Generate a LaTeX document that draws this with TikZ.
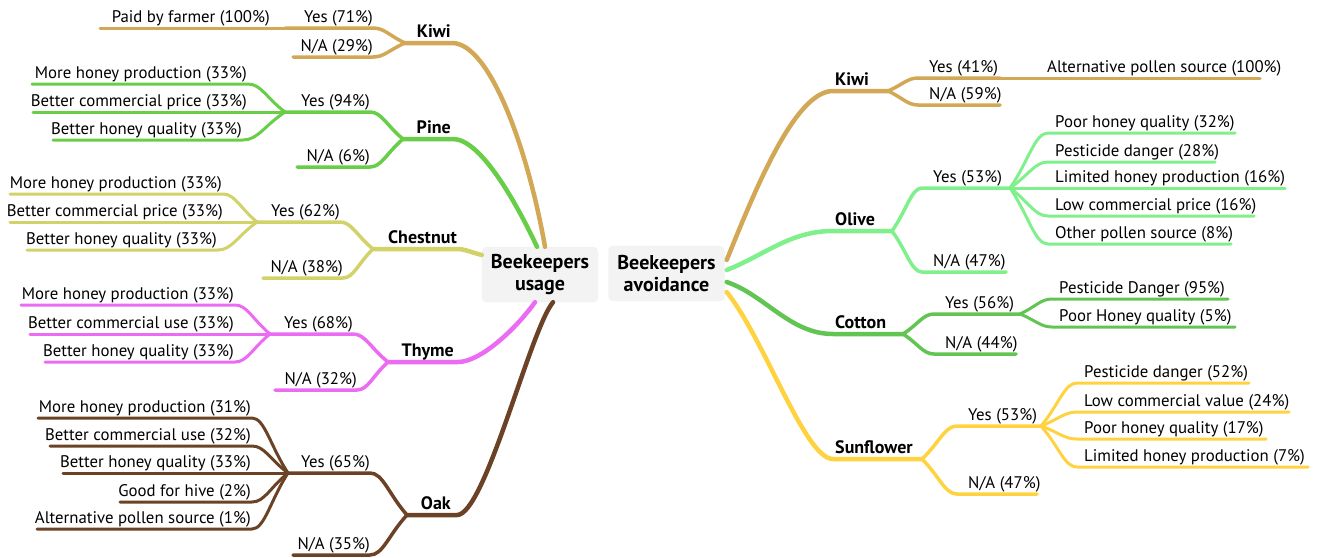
\documentclass[tikz,border=0pt]{standalone}
\usepackage{fontspec}
\setmainfont{PT Sans}
\usetikzlibrary{calc}
\definecolor{ckiwi}{RGB}{210,168,87}
\definecolor{cpine}{RGB}{104,206,72}
\definecolor{cchest}{RGB}{210,210,106}
\definecolor{cthyme}{RGB}{235,107,242}
\definecolor{coak}{RGB}{107,66,38}
\definecolor{colive}{RGB}{128,240,140}
\definecolor{ccotton}{RGB}{98,196,82}
\definecolor{csun}{RGB}{255,210,63}
\definecolor{cboxfill}{RGB}{243,243,243}
\tikzset{
  lf/.style={inner sep=0pt, font=\fontsize{16.8}{20}\selectfont},
  tp/.style={inner sep=0pt, font=\fontsize{18}{21}\selectfont\bfseries},
  cbox/.style={fill=cboxfill, draw=black!6, rounded corners=5pt, align=center,
    minimum width=116pt, minimum height=55pt, inner sep=0pt,
    font=\fontsize{20}{22}\selectfont\bfseries},
  mainln/.style={line width=4.5pt, line cap=round},
  subln/.style={line width=3.5pt, line cap=round},
  leafln/.style={line width=3pt, line cap=round},
  br/.style={to path={.. controls ($(\tikztostart)!0.5!(\tikztotarget)$) and ($(\tikztotarget)!0.35!(\tikztostart|-\tikztotarget)$) .. (\tikztotarget)}}
}
% #1 name, #2 colour, #3 fork, #4 y, #5 x start, #6 x end, #7 text
\newcommand\Lsub[7]{%
  \coordinate (#1s) at (#5,#4);
  \coordinate (#1e) at (#6,#4);
  \draw[subln,#2] (#3) to[br] (#1s) -- (#1e);
  \node[lf,anchor=base east] (#1) at ($(#1s)+(0,-6)$) {#7};
}
\newcommand\Lleaf[7]{%
  \coordinate (#1s) at (#5,#4);
  \coordinate (#1e) at (#6,#4);
  \draw[leafln,#2] (#3) to[br] (#1s) -- (#1e);
  \node[lf,anchor=base east] (#1) at ($(#1s)+(-1,-6)$) {#7};
}
\newcommand\Rsub[7]{%
  \coordinate (#1s) at (#5,#4);
  \coordinate (#1e) at (#6,#4);
  \draw[subln,#2] (#3) to[br] (#1s) -- (#1e);
  \node[lf,anchor=base west] (#1) at ($(#1s)+(11,-6)$) {#7};
}
\newcommand\Rleaf[7]{%
  \coordinate (#1s) at (#5,#4);
  \coordinate (#1e) at (#6,#4);
  \draw[leafln,#2] (#3) to[br] (#1s) -- (#1e);
  \node[lf,anchor=base west] (#1) at ($(#1s)+(7,-6)$) {#7};
}
\begin{document}
\begin{tikzpicture}[x=1pt,y=-1pt]
\useasboundingbox (0,0) rectangle (1317,557);

% central boxes
\node[cbox] (U) at (540,274.5) {Beekeepers\\usage};
\node[cbox] (A) at (666.5,273.5) {Beekeepers\\avoidance};

\coordinate (uK) at ($(U.north)+(5,0)$);
\coordinate (uP) at ($(U.north)+(-3,0)$);
\coordinate (uC) at ($(U.west)+(0,-19.5)$);
\coordinate (uT) at ($(U.south)+(-5,0)$);
\coordinate (uO) at ($(U.south)+(13,0)$);
\coordinate (aK) at ($(A.east)+(2,-13.5)$);
\coordinate (aO) at ($(A.east)+(2,-3.5)$);
\coordinate (aC) at ($(A.east)+(2,8.5)$);
\coordinate (aS) at ($(A.east)+(2,18.5)$);

% ---------- LEFT: usage ----------
% Kiwi
\coordinate (kwE) at (452,43); \coordinate (kwF) at (405,43);
\draw[mainln,ckiwi] (uK) .. controls (528,150) and (490,43) .. (kwE) -- (kwF);
\node[tp,anchor=base east] (kw) at (451,37) {Kiwi};
\Lsub{kwy}{ckiwi}{kwF}{28}{373}{285}{Yes (71\%)}
\Lleaf{kwyp}{ckiwi}{kwye}{28}{271}{100}{Paid by farmer (100\%)}
\Lsub{kwn}{ckiwi}{kwF}{57}{373}{293}{N/A (29\%)}

% Pine
\coordinate (piE) at (453,139); \coordinate (piF) at (403,139);
\draw[mainln,cpine] (uP) .. controls (515,200) and (480,139) .. (piE) -- (piF);
\node[tp,anchor=base east] (pi) at (451,133) {Pine};
\Lsub{piy}{cpine}{piF}{112}{370}{285}{Yes (94\%)}
\Lleaf{pia}{cpine}{piye}{84}{248}{32}{More honey production (33\%)}
\Lleaf{pib}{cpine}{piye}{112}{248}{33}{Better commercial price (33\%)}
\Lleaf{pic}{cpine}{piye}{140}{243}{53}{Better honey quality (33\%)}
\Lsub{pin}{cpine}{piF}{167}{370}{297}{N/A (6\%)}

% Chestnut
\coordinate (chE) at (457,249); \coordinate (chF) at (373,249);
\draw[mainln,cchest] (uC) .. controls (470,252) and (465,249) .. (chE) -- (chF);
\node[tp,anchor=base east] (ch) at (457,243) {Chestnut};
\Lsub{chy}{cchest}{chF}{222}{340}{257}{Yes (62\%)}
\Lleaf{cha}{cchest}{chye}{194}{223}{10}{More honey production (33\%)}
\Lleaf{chb}{cchest}{chye}{222}{224}{10}{Better commercial price (33\%)}
\Lleaf{chc}{cchest}{chye}{250}{218}{27}{Better honey quality (33\%)}
\Lsub{chn}{cchest}{chF}{278}{343}{263}{N/A (38\%)}

% Thyme
\coordinate (thE) at (458,362); \coordinate (thF) at (388,362);
\draw[mainln,cthyme] (uT) .. controls (515,330) and (480,362) .. (thE) -- (thF);
\node[tp,anchor=base east] (th) at (454,356) {Thyme};
\Lsub{thy}{cthyme}{thF}{334}{353}{270}{Yes (68\%)}
\Lleaf{tha}{cthyme}{thye}{305}{235}{21}{More honey production (33\%)}
\Lleaf{thb}{cthyme}{thye}{334}{235}{30}{Better commercial use (33\%)}
\Lleaf{thc}{cthyme}{thye}{362}{235}{45}{Better honey quality (33\%)}
\Lsub{thn}{cthyme}{thF}{390}{357}{275}{N/A (32\%)}

% Oak
\coordinate (okE) at (457,515); \coordinate (okF) at (407,515);
\draw[mainln,coak] (uO) .. controls (530,330) and (485,515) .. (okE) -- (okF);
\node[tp,anchor=base east] (ok) at (451,509) {Oak};
\Lsub{oky}{coak}{okF}{473}{370}{288}{Yes (65\%)}
\Lleaf{oka}{coak}{okye}{418}{252}{38}{More honey production (31\%)}
\Lleaf{okb}{coak}{okye}{446}{252}{50}{Better commercial use (32\%)}
\Lleaf{okc}{coak}{okye}{473}{252}{63}{Better honey quality (33\%)}
\Lleaf{okd}{coak}{okye}{502}{252}{120}{Good for hive (2\%)}
\Lleaf{oke}{coak}{okye}{529}{252}{37}{Alternative pollen source (1\%)}
\Lsub{okn}{coak}{okF}{555}{370}{293}{N/A (35\%)}

% ---------- RIGHT: avoidance ----------
% Kiwi
\coordinate (rkE) at (833,91); \coordinate (rkF) at (888,91);
\draw[mainln,ckiwi] (aK) .. controls (755,190) and (795,91) .. (rkE) -- (rkF);
\node[tp,anchor=base west] (rk) at (835,85) {Kiwi};
\Rsub{rky}{ckiwi}{rkF}{78}{918}{1000}{Yes (41\%)}
\Rleaf{rkya}{ckiwi}{rkye}{78}{1040}{1260}{Alternative pollen source (100\%)}
\Rsub{rkn}{ckiwi}{rkF}{105}{918}{1000}{N/A (59\%)}

% Olive
\coordinate (roE) at (833,231); \coordinate (roF) at (892,231);
\draw[mainln,colive] (aO) .. controls (765,255) and (790,231) .. (roE) -- (roF);
\node[tp,anchor=base west] (ro) at (835,225) {Olive};
\Rsub{roy}{colive}{roF}{188}{922}{1010}{Yes (53\%)}
\Rleaf{roa}{colive}{roye}{133}{1048}{1235}{Poor honey quality (32\%)}
\Rleaf{rob}{colive}{roye}{162}{1048}{1215}{Pesticide danger (28\%)}
\Rleaf{roc}{colive}{roye}{188}{1048}{1285}{Limited honey production (16\%)}
\Rleaf{rod}{colive}{roye}{216}{1048}{1254}{Low commercial price (16\%)}
\Rleaf{roe}{colive}{roye}{244}{1048}{1231}{Other pollen source (8\%)}
\Rsub{ron}{colive}{roF}{272}{922}{1006}{N/A (47\%)}

% Cotton
\coordinate (rcE) at (833,334); \coordinate (rcF) at (903,334);
\draw[mainln,ccotton] (aC) .. controls (765,295) and (790,334) .. (rcE) -- (rcF);
\node[tp,anchor=base west] (rc) at (835,328) {Cotton};
\Rsub{rcy}{ccotton}{rcF}{314}{934}{1020}{Yes (56\%)}
\Rleaf{rca}{ccotton}{rcye}{299}{1052}{1228}{Pesticide Danger (95\%)}
\Rleaf{rcb}{ccotton}{rcye}{327}{1052}{1235}{Poor Honey quality (5\%)}
\Rsub{rcn}{ccotton}{rcF}{354}{934}{1016}{N/A (44\%)}

% Sunflower
\coordinate (rsE) at (833,459); \coordinate (rsF) at (922,459);
\draw[mainln,csun] (aS) .. controls (765,340) and (805,459) .. (rsE) -- (rsF);
\node[tp,anchor=base west] (rs) at (835,453) {Sunflower};
\Rsub{rsy}{csun}{rsF}{426}{957}{1041}{Yes (53\%)}
\Rleaf{rsa}{csun}{rsye}{383}{1077}{1249}{Pesticide danger (52\%)}
\Rleaf{rsb}{csun}{rsye}{412}{1077}{1289}{Low commercial value (24\%)}
\Rleaf{rsc}{csun}{rsye}{439}{1077}{1266}{Poor honey quality (17\%)}
\Rleaf{rsd}{csun}{rsye}{467}{1077}{1308}{Limited honey production (7\%)}
\Rsub{rsn}{csun}{rsF}{494}{957}{1037}{N/A (47\%)}
\end{tikzpicture}
\end{document}
